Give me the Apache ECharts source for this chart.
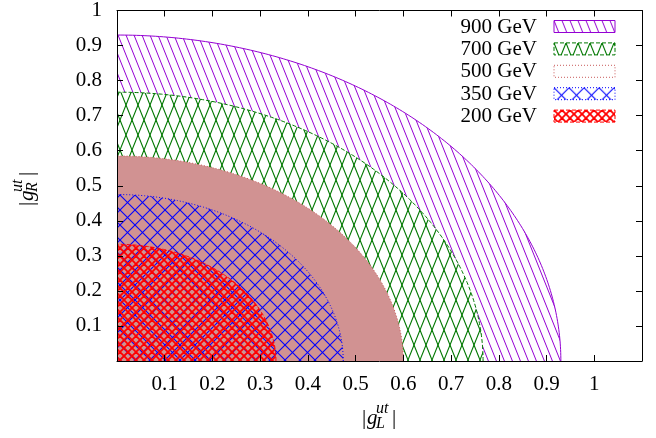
<!DOCTYPE html>
<html>
<head>
<meta charset="utf-8">
<script src="https://cdn.jsdelivr.net/npm/echarts@6/dist/echarts.min.js"></script>
<style>html,body{margin:0;padding:0;background:#fff}#c{width:656px;height:438px}</style>
</head>
<body>
<div id="c"></div>
<script>
// ---- data ----
const massLabels = ['900 GeV', '700 GeV', '500 GeV', '350 GeV', '200 GeV'];
const radiusL = [0.93, 0.767, 0.60, 0.474, 0.333];   // reach along |g_L|
const radiusR = [0.93, 0.767, 0.585, 0.475, 0.333];  // reach along |g_R|
const xTicks = [0.1, 0.2, 0.3, 0.4, 0.5, 0.6, 0.7, 0.8, 0.9, 1];
const yTicks = [0.1, 0.2, 0.3, 0.4, 0.5, 0.6, 0.7, 0.8, 0.9, 1];

// ---- styles ----
const FONT = '"Liberation Serif", "DejaVu Serif", serif';
const colors = ['rgb(148,0,211)', 'rgb(0,120,0)', 'rgb(200,90,90)', 'rgb(0,0,255)', 'rgb(255,0,0)'];
const dashes = [null, [4, 2], [1, 2], [1, 2], [4, 2]];
const ROSY = '#d19292';

function makeTile(w, h, color, lw, kinds, bg) {
  const c = document.createElement('canvas');
  c.width = w; c.height = h;
  const g = c.getContext('2d');
  if (bg) { g.fillStyle = bg; g.fillRect(0, 0, w, h); }
  g.strokeStyle = color; g.lineWidth = lw;
  for (const k of kinds) {
    for (const off of [-w, 0, w]) {
      g.beginPath();
      if (k === 'back') { g.moveTo(off, 0); g.lineTo(off + w, h); }
      else { g.moveTo(off, h); g.lineTo(off + w, 0); }
      g.stroke();
    }
  }
  return c;
}
const fills = [
  { image: makeTile(8, 20, colors[0], 1, ['back'], '#fff'), repeat: 'repeat' },
  { image: makeTile(12, 30, colors[1], 1.1, ['back', 'fwd'], '#fff'), repeat: 'repeat' },
  ROSY,
  { image: makeTile(15, 15, colors[3], 1.1, ['back', 'fwd'], null), repeat: 'repeat' },
  { image: makeTile(8, 8, colors[4], 1.8, ['back', 'fwd'], null), repeat: 'repeat' }
];
const legendFills = [fills[0], fills[1], '#fff',
  { image: makeTile(15, 15, colors[3], 1.1, ['back', 'fwd'], '#fff'), repeat: 'repeat' },
  { image: makeTile(8, 8, colors[4], 1.8, ['back', 'fwd'], '#fff'), repeat: 'repeat' }];

const fmt = v => (v < 0.05 || v > 1.05) ? '' : String(+v.toFixed(1));

const axisCommon = {
  type: 'value', z: 5,
  interval: 0.1,
  axisLine: { show: true, onZero: false, lineStyle: { color: '#000', width: 1 } },
  axisTick: { show: true, inside: true, length: 6, lineStyle: { color: '#000', width: 1 } },
  splitLine: { show: false }
};

// legend graphics
const legendGraphics = [];
massLabels.forEach((lab, i) => {
  const cy = 26.5 + i * 22.4;
  legendGraphics.push({
    type: 'text', x: 537, y: cy + 0.5, z: 10,
    style: { text: lab, font: '21px ' + FONT, fill: '#000', align: 'right', verticalAlign: 'middle' }
  });
  legendGraphics.push({
    type: 'rect', x: 554, y: cy - 6, z: 10,
    shape: { x: 0, y: 0, width: 61, height: 12 },
    style: { fill: legendFills[i], stroke: colors[i], lineWidth: 1, lineDash: dashes[i] }
  });
});

function titleGroup(x, y, rot, sub) {
  const it = 'italic 21px ' + FONT, sm = 'italic 16px ' + FONT, up = '21px ' + FONT;
  return {
    type: 'group', x: x, y: y, rotation: rot, z: 10,
    children: [
      { type: 'text', x: -17, y: 0, style: { text: '|', font: up, fill: '#000', verticalAlign: 'middle' } },
      { type: 'text', x: -12, y: 0, style: { text: 'g', font: it, fill: '#000', verticalAlign: 'middle' } },
      { type: 'text', x: -3, y: -9, style: { text: 'ut', font: sm, fill: '#000', verticalAlign: 'middle' } },
      { type: 'text', x: -3, y: 6, style: { text: sub, font: sm, fill: '#000', verticalAlign: 'middle' } },
      { type: 'text', x: 13, y: 0, style: { text: '|', font: up, fill: '#000', verticalAlign: 'middle' } }
    ]
  };
}

const chart = echarts.init(document.getElementById('c'), null, { renderer: 'canvas' });
chart.setOption({
  animation: false,
  backgroundColor: '#fff',
  grid: { left: 117, right: 14, top: 10, bottom: 77, containLabel: false },
  xAxis: [
    Object.assign({}, axisCommon, {
      min: 0, max: 1.1, position: 'bottom',
      axisLabel: { show: true, margin: 13, formatter: fmt, fontFamily: FONT, fontSize: 21, color: '#000',
        customValues: xTicks }
    }),
    Object.assign({}, axisCommon, {
      min: 0, max: 1.1, position: 'top', axisLabel: { show: false }
    })
  ],
  yAxis: [
    Object.assign({}, axisCommon, {
      min: 0, max: 1, position: 'left',
      axisLabel: { show: true, margin: 15, formatter: fmt, fontFamily: FONT, fontSize: 21, color: '#000',
        customValues: yTicks }
    }),
    Object.assign({}, axisCommon, {
      min: 0, max: 1, position: 'right', axisLabel: { show: false }
    })
  ],
  graphic: legendGraphics.concat([
    titleGroup(379, 418, 0, 'L'),
    titleGroup(27, 189, Math.PI / 2, 'R')
  ]),
  series: [{
    type: 'custom',
    coordinateSystem: 'cartesian2d',
    xAxisIndex: 0, yAxisIndex: 0,
    data: radiusL.map((r, i) => [r, radiusR[i]]),
    renderItem: function (params, api) {
      const i = params.dataIndex;
      const rl = api.value(0), rr = api.value(1);
      const arc = [];
      for (let k = 0; k <= 180; k++) {
        const a = k * Math.PI / 360;
        arc.push(api.coord([rl * Math.cos(a), rr * Math.sin(a)]));
      }
      return {
        type: 'group',
        children: [
          { type: 'polygon', shape: { points: [api.coord([0, 0])].concat(arc) }, style: { fill: fills[i], stroke: null } },
          { type: 'polyline', shape: { points: arc }, style: { fill: null, stroke: colors[i], lineWidth: 1, lineDash: dashes[i] } }
        ]
      };
    }
  }]
});
</script>
</body>
</html>
